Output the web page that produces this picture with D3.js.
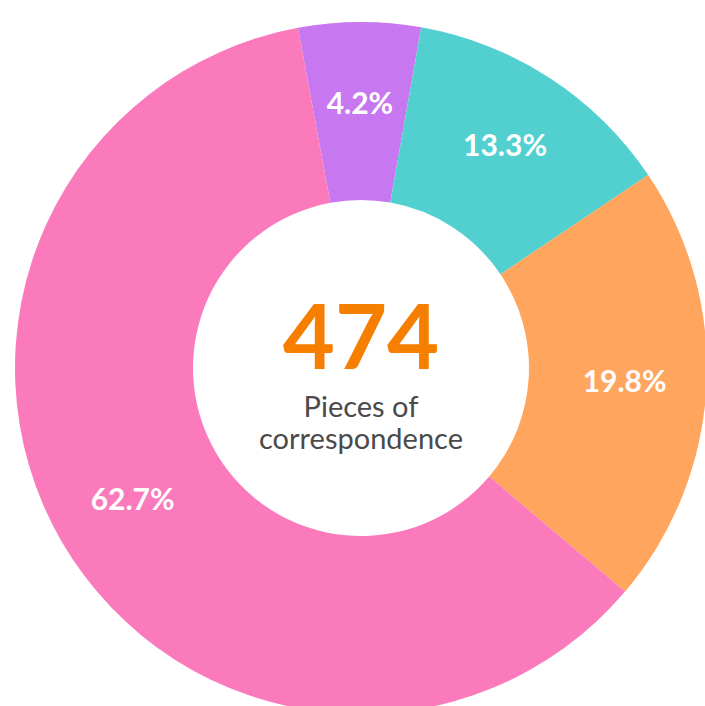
<!DOCTYPE html>
<html>
<head>
<meta charset="utf-8">
<script src="https://cdn.jsdelivr.net/npm/d3@7"></script>
<style>
  body { margin: 0; background: #fff; }
  svg { display: block; }
</style>
</head>
<body>
<div id="viz"></div>
<script>
// slice sizes as drawn (share of the ring), and the labels printed on them
var categories = ['Purple', 'Teal', 'Orange', 'Pink'];
var sliceValues = [5.7, 12.8, 20.6, 60.9];
var sliceLabels = ['4.2%', '13.3%', '19.8%', '62.7%'];
var colors = ['#C777EF', '#52D0CF', '#FFA55D', '#FB7ABC'];
var total = '474';
var caption = ['Pieces of', 'correspondence'];

var chart = {width: 705, height: 706};
var cx = 361, cy = 368;
var outerR = 346, innerR = 168;

var svg = d3.select('#viz')
  .append('svg')
  .attr('width', chart.width)
  .attr('height', chart.height);

var g = svg.append('g')
  .attr('transform', 'translate(' + cx + ',' + cy + ')');

var pie = d3.pie()
  .sort(null)
  .value(function(d) { return d; })
  .startAngle(-10.5 * Math.PI / 180)
  .endAngle(2 * Math.PI - 10.5 * Math.PI / 180);

var arc = d3.arc().innerRadius(innerR).outerRadius(outerR);
var labelArc = d3.arc().innerRadius(264).outerRadius(264);

var arcs = pie(sliceValues);

g.selectAll('path')
  .data(arcs)
  .enter()
  .append('path')
  .attr('d', arc)
  .attr('fill', function(d, i) { return colors[i]; });

g.selectAll('text.pct')
  .data(arcs)
  .enter()
  .append('text')
  .attr('class', 'pct')
  .attr('transform', function(d) { return 'translate(' + labelArc.centroid(d) + ')'; })
  .attr('text-anchor', 'middle')
  .attr('dy', '0.32em')
  .style('font-family', 'Lato, sans-serif')
  .style('font-weight', 700)
  .style('font-size', '30px')
  .style('fill', '#fff')
  .text(function(d, i) { return sliceLabels[i]; });

g.append('text')
  .attr('text-anchor', 'middle')
  .attr('y', 1)
  .style('font-family', 'Lato, sans-serif')
  .style('font-weight', 700)
  .style('font-size', '90px')
  .style('fill', '#F77F00')
  .text(total);

g.selectAll('text.cap')
  .data(caption)
  .enter()
  .append('text')
  .attr('class', 'cap')
  .attr('text-anchor', 'middle')
  .attr('y', function(d, i) { return 49 + i * 32; })
  .style('font-family', 'Lato, sans-serif')
  .style('font-size', '29px')
  .style('fill', '#4A4A4A')
  .text(function(d) { return d; });
</script>
</body>
</html>
